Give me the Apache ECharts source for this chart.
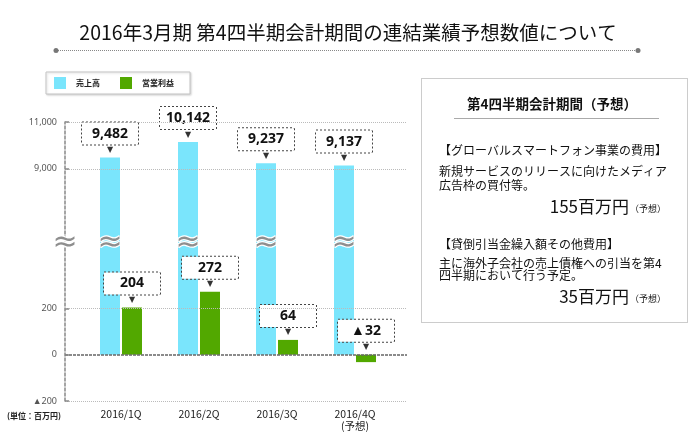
<!DOCTYPE html>
<html>
<head>
<meta charset="utf-8">
<script src="https://cdn.jsdelivr.net/npm/echarts@6/dist/echarts.min.js"></script>
<style>
html,body{margin:0;padding:0;background:#fff;}
#c{width:696px;height:442px;}
</style>
</head>
<body>
<div id="c"></div>
<script>
const categories = ['2016/1Q', '2016/2Q', '2016/3Q', '2016/4Q\n(予想)'];
const sales = [9482, 10142, 9237, 9137];
const profit = [204, 272, 64, -32];
const topTicks = [9000, 11000];
const bottomTicks = [-200, 0, 200];
const topRange = [6000, 11000];
const bottomRange = [-200, 500];

const JP = '"Noto Sans CJK JP", "Noto Sans", sans-serif';
const fmt = v => (v < 0 ? '▲' : '') + Math.abs(v).toLocaleString('en-US');

const boxLabel = {
  show: true,
  position: 'top',
  distance: 2,
  formatter: p => '{b|' + fmt(p.value) + '}\n{a|▼}',
  rich: {
    b: {
      width: 56, height: 22, align: 'center', fontSize: 14, fontWeight: 'bold',
      fontFamily: '"Noto Sans", sans-serif', color: '#111',
      borderColor: '#444', borderWidth: 1, borderType: 'dotted', backgroundColor: '#fff'
    },
    a: { fontSize: 8, color: '#333', lineHeight: 11, align: 'center', fontFamily: 'DejaVu Sans' }
  }
};

const waveLabel = {
  show: true,
  position: [10, 4],
  align: 'center',
  verticalAlign: 'middle',
  formatter: '≈',
  fontSize: 30,
  fontWeight: 'normal',
  fontFamily: 'DejaVu Sans',
  color: '#8e8e8e',
  textBorderColor: '#fff',
  textBorderWidth: 2.5
};

const gridLine = { type: 'dotted', color: '#bbb', width: 1 };
function lines(ticks, zeroDark) {
  const d = [];
  ticks.forEach(t => {
    d.push({ yAxis: t, lineStyle: (zeroDark && t === 0) ? { type: [3, 1], color: '#666', width: 1.5 } : gridLine });
    d.push([{ coord: [0, t], lineStyle: { type: 'solid', color: '#888', width: 1.5 } }, { coord: [0.012, t] }]);
  });
  return d;
}

const chart = echarts.init(document.getElementById('c'), null, { renderer: 'canvas' });
chart.setOption({
  animation: false,
  backgroundColor: '#fff',
  title: {
    text: '2016年3月期 第4四半期会計期間の連結業績予想数値について',
    left: 'center', top: 18,
    textStyle: { fontSize: 19.5, fontWeight: 'normal', fontFamily: JP, color: '#111' }
  },
  legend: {
    data: ['売上高', '営業利益'],
    left: 46, top: 72,
    itemWidth: 12, itemHeight: 12, itemGap: 20, icon: 'rect',
    padding: [5, 16, 5, 8],
    borderColor: '#c4c4c4', borderWidth: 1, backgroundColor: '#fff',
    shadowColor: 'rgba(0,0,0,0.15)', shadowBlur: 2, shadowOffsetX: 1, shadowOffsetY: 1,
    textStyle: { fontSize: 8, fontWeight: 'bold', color: '#222', fontFamily: JP, padding: [0, 0, 0, 5] }
  },
  grid: [
    { left: 82, width: 312, top: 122, height: 117 },
    { left: 82, width: 312, top: 239, height: 162 },
    { left: 65, width: 342, top: 122, height: 117 },
    { left: 65, width: 342, top: 239, height: 162 }
  ],
  xAxis: [
    { type: 'category', gridIndex: 0, data: categories, axisLine: { show: false }, axisTick: { show: false }, axisLabel: { show: false } },
    { type: 'category', gridIndex: 1, data: categories, axisLine: { show: false }, axisTick: { show: false },
      axisLabel: { margin: 7, fontSize: 10.5, color: '#222', fontFamily: JP, lineHeight: 12 } },
    { type: 'value', gridIndex: 2, min: 0, max: 1, show: false },
    { type: 'value', gridIndex: 3, min: 0, max: 1, show: false }
  ],
  yAxis: [
    { type: 'value', gridIndex: 0, min: topRange[0], max: topRange[1], show: false },
    { type: 'value', gridIndex: 1, min: bottomRange[0], max: bottomRange[1], show: false },
    { type: 'value', gridIndex: 2, min: topRange[0], max: topRange[1], interval: 1000,
      splitLine: { show: false }, axisTick: { show: false },
      axisLine: { show: true, lineStyle: { color: '#888', width: 1.5, type: [3, 2] } },
      axisLabel: { margin: 8, fontSize: 9, color: '#555', fontFamily: '"Noto Sans", sans-serif',
        formatter: v => topTicks.includes(v) ? fmt(v) : '' } },
    { type: 'value', gridIndex: 3, min: bottomRange[0], max: bottomRange[1], interval: 100,
      splitLine: { show: false }, axisTick: { show: false },
      axisLine: { show: true, lineStyle: { color: '#888', width: 1.5, type: [3, 2] } },
      axisLabel: { margin: 8, fontSize: 9, color: '#555', fontFamily: '"Noto Sans", sans-serif',
        formatter: v => bottomTicks.includes(v) ? fmt(v) : '' } }
  ],
  series: [
    { name: 'gridTop', type: 'line', xAxisIndex: 2, yAxisIndex: 2, data: [], silent: true,
      markLine: { silent: true, symbol: ['none', 'none'], label: { show: false }, data: lines(topTicks, false) } },
    { name: 'gridBottom', type: 'line', xAxisIndex: 3, yAxisIndex: 3, data: [], silent: true,
      markLine: { silent: true, symbol: ['none', 'none'], label: { show: false }, data: lines(bottomTicks, true) },
      markPoint: { silent: true, symbol: 'circle', symbolSize: 0,
        data: [{ coord: [0, bottomRange[1]] }],
        label: Object.assign({}, waveLabel, { position: 'inside', offset: [0, 4] }) } },
    { name: '売上高', type: 'bar', xAxisIndex: 0, yAxisIndex: 0, data: sales, barWidth: 20, barGap: '10%',
      itemStyle: { color: '#7ae5fc' }, label: boxLabel },
    { name: '営業利益', type: 'bar', xAxisIndex: 0, yAxisIndex: 0, data: profit, barWidth: 20, barGap: '10%',
      itemStyle: { color: '#52a800' } },
    { name: '売上高', type: 'bar', xAxisIndex: 1, yAxisIndex: 1, data: sales, barWidth: 20, barGap: '10%',
      itemStyle: { color: '#7ae5fc' }, label: waveLabel, z: 3 },
    { name: '営業利益', type: 'bar', xAxisIndex: 1, yAxisIndex: 1, data: profit, barWidth: 20, barGap: '10%',
      itemStyle: { color: '#52a800' }, label: boxLabel, z: 4 }
  ],
  graphic: [
    { type: 'line', shape: { x1: 56, y1: 50.5, x2: 638, y2: 50.5 }, style: { stroke: '#888', lineWidth: 1, lineDash: [1, 1] }, silent: true },
    { type: 'circle', shape: { cx: 56, cy: 50.5, r: 2.5 }, style: { fill: '#777' }, silent: true },
    { type: 'circle', shape: { cx: 638, cy: 50.5, r: 2.5 }, style: { fill: '#777' }, silent: true },
    { type: 'text', x: 7, y: 416, silent: true,
      style: { text: '(単位：百万円)', font: 'bold 8px ' + JP, fill: '#222', verticalAlign: 'middle', textVerticalAlign: 'middle' } },
    { type: 'rect', shape: { x: 421.5, y: 78.5, width: 266, height: 244 }, style: { fill: '#fff', stroke: '#999', lineWidth: 1, lineDash: [1, 1] }, silent: true, z: -1 },
    { type: 'line', shape: { x1: 454, y1: 118.5, x2: 659, y2: 118.5 }, style: { stroke: '#aaa', lineWidth: 1 }, silent: true },
    { type: 'text', x: 552, y: 104, silent: true,
      style: { text: '第4四半期会計期間（予想）', font: 'bold 13.5px ' + JP, fill: '#111', align: 'center', textAlign: 'center', verticalAlign: 'middle', textVerticalAlign: 'middle' } },
    ...[
      ['【グローバルスマートフォン事業の費用】', 439, 150.5],
      ['新規サービスのリリースに向けたメディア', 439, 171.3],
      ['広告枠の買付等。', 439, 185.3],
      ['【貸倒引当金繰入額その他費用】', 439, 244.3],
      ['主に海外子会社の売上債権への引当を第4', 439, 263.3],
      ['四半期において行う予定。', 439, 275.7]
    ].map(([t, x, y]) => ({ type: 'text', x: x, y: y, silent: true,
      style: { text: t, font: '12px ' + JP, fill: '#111', verticalAlign: 'middle', textVerticalAlign: 'middle' } })),
    ...[
      ['155百万円', 206.7],
      ['35百万円', 296.7]
    ].map(([t, y]) => ({ type: 'text', x: 629, y: y, silent: true,
      style: { text: t, font: '17px ' + JP, fill: '#111', align: 'right', textAlign: 'right', verticalAlign: 'middle', textVerticalAlign: 'middle' } })),
    ...[206.7, 296.7].map(y => ({ type: 'text', x: 666, y: y + 2, silent: true,
      style: { text: '（予想）', font: '9px ' + JP, fill: '#111', align: 'right', textAlign: 'right', verticalAlign: 'middle', textVerticalAlign: 'middle' } }))
  ]
});
</script>
</body>
</html>
